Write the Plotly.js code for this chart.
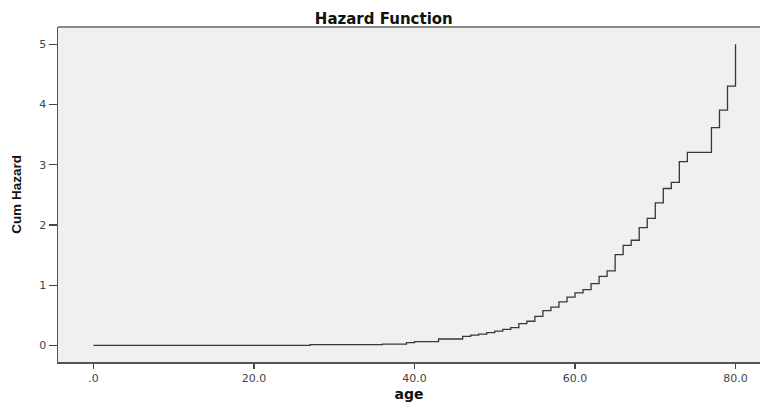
<!DOCTYPE html>
<html>
<head>
<meta charset="utf-8">
<script src="https://cdn.plot.ly/plotly-3.0.1.min.js"></script>
<style>
  html, body { margin: 0; padding: 0; background: #ffffff; }
  #chart { width: 760px; height: 403px; }
</style>
</head>
<body>
<div id="chart"></div>
<script>
// Cumulative hazard by age (step function; value holds until the next event age)
const ages = [0, 27, 36, 39, 40, 43, 46, 47, 48, 49, 50, 51, 52, 53, 54, 55, 56, 57, 58, 59,
              60, 61, 62, 63, 64, 65, 66, 67, 68, 69, 70, 71, 72, 73, 74, 77, 78, 79, 80];
const cumHazard = [0, 0.01, 0.02, 0.045, 0.06, 0.105, 0.15, 0.17, 0.185, 0.21, 0.235, 0.265, 0.295,
                   0.36, 0.40, 0.48, 0.575, 0.635, 0.72, 0.80, 0.87, 0.925, 1.025, 1.145, 1.235,
                   1.505, 1.66, 1.745, 1.955, 2.11, 2.365, 2.605, 2.705, 3.05, 3.205, 3.615,
                   3.905, 4.305, 5.0];

const xTickVals = [0, 20, 40, 60, 80];
const xTickText = ['.0', '20.0', '40.0', '60.0', '80.0'];
const yTickVals = [0, 1, 2, 3, 4, 5];
const yTickText = ['0', '1', '2', '3', '4', '5'];

const tickFont = { family: 'DejaVu Sans, Liberation Sans, sans-serif', size: 11, color: '#444444' };

const trace = {
  x: ages,
  y: cumHazard,
  type: 'scatter',
  mode: 'lines',
  line: { shape: 'hv', color: '#383838', width: 1.3 },
  hoverinfo: 'x+y'
};

const layout = {
  width: 760,
  height: 403,
  margin: { l: 58, r: 0, t: 27, b: 41 },
  paper_bgcolor: '#ffffff',
  plot_bgcolor: '#f0f0f0',
  showlegend: false,
  title: {
    text: '<b>Hazard Function</b>',
    font: { family: 'DejaVu Sans, Liberation Sans, sans-serif', size: 15, color: '#111111' },
    xref: 'container', x: 0.505, xanchor: 'center',
    yref: 'container', y: 0.953, yanchor: 'middle'
  },
  xaxis: {
    range: [-4.42, 83.05],
    tickvals: xTickVals,
    ticktext: xTickText,
    ticks: 'outside', ticklen: 5, tickwidth: 1.5, tickcolor: '#444444',
    tickfont: tickFont,
    showgrid: false, zeroline: false,
    showline: true, linecolor: '#555555', linewidth: 1.5,
    title: {
      text: '<b>age</b>',
      font: { family: 'DejaVu Sans, Liberation Sans, sans-serif', size: 14, color: '#111111' },
      standoff: 5
    }
  },
  yaxis: {
    range: [-0.277, 5.287],
    tickvals: yTickVals,
    ticktext: yTickText,
    ticks: 'outside', ticklen: 8, tickwidth: 1.2, tickcolor: '#444444',
    tickfont: tickFont,
    showgrid: false, zeroline: false,
    showline: true, linecolor: '#555555', linewidth: 1.5,
    title: {
      text: '<b>Cum Hazard</b>',
      font: { family: 'Liberation Sans Narrow, Arial Narrow, Liberation Sans, sans-serif', size: 13.5, color: '#111111' },
      standoff: 14
    }
  },
  shapes: [
    {
      type: 'line', xref: 'paper', yref: 'paper',
      x0: 0, x1: 1, y0: 1, y1: 1,
      line: { color: '#8a8a8a', width: 2 }
    }
  ]
};

Plotly.newPlot('chart', [trace], layout, { displayModeBar: false, staticPlot: true });
</script>
</body>
</html>
